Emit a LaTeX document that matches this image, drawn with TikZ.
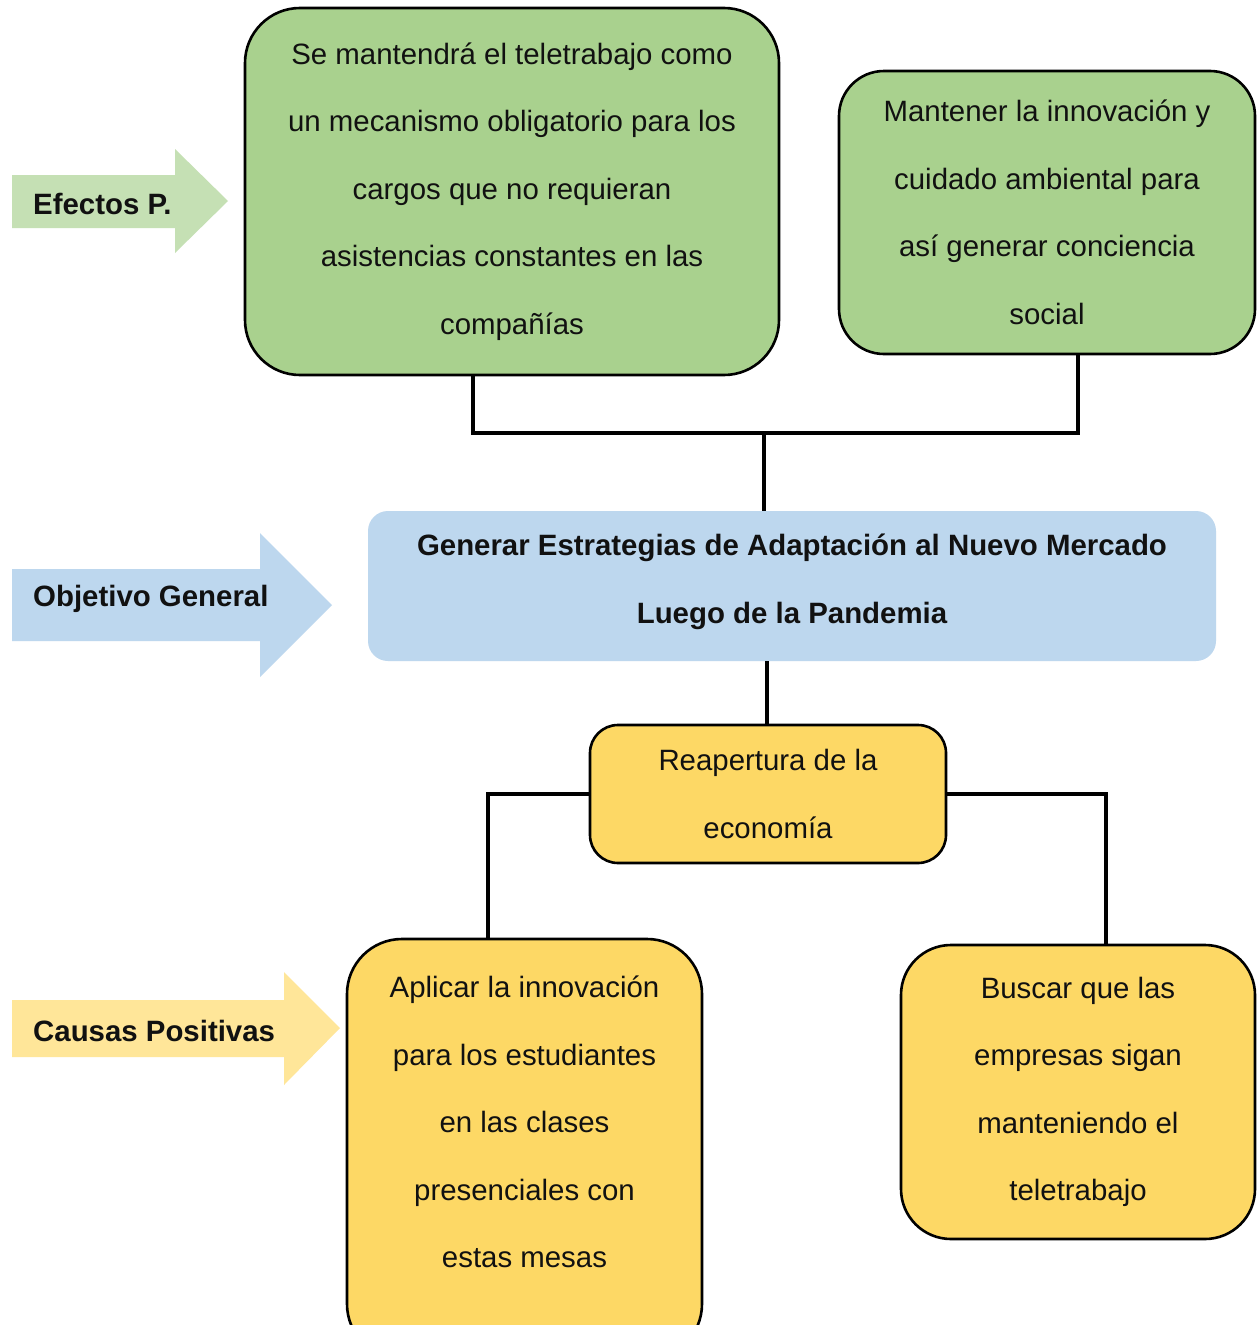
\documentclass[tikz,border=0pt]{standalone}
\usepackage{fontspec}
\setmainfont{Liberation Sans}
\definecolor{boxgreen}{HTML}{A9D18E}
\definecolor{arrgreen}{HTML}{C5E0B4}
\definecolor{boxblue}{HTML}{BDD7EE}
\definecolor{boxyellow}{HTML}{FDD865}
\definecolor{arryellow}{HTML}{FFE699}
\definecolor{ink}{HTML}{111111}
\begin{document}
\begin{tikzpicture}[x=1pt,y=-1pt,
  txt/.style={font=\fontsize{29.4}{67.5}\selectfont, text=ink, align=center},
  card/.style={txt, draw=black, line width=2.6pt, inner sep=0pt},
  tag/.style={font=\fontsize{29.4}{34}\selectfont\bfseries, text=ink, anchor=west, inner sep=0pt},
  link/.style={line width=3.6pt, draw=black}]
\clip (0,0) rectangle (1257,1325);
\fill[white] (0,0) rectangle (1257,1325);

% side arrows
\fill[arrgreen] (12,175) -- (175,175) -- (175,149) -- (228,201) -- (175,253) -- (175,228) -- (12,228) -- cycle;
\node[tag] (tefe) at (33,204) {Efectos P.};
\fill[boxblue] (12,569) -- (260,569) -- (260,533) -- (332,605) -- (260,677) -- (260,641) -- (12,641) -- cycle;
\node[tag] (tobj) at (33,599) {Objetivo General};
\fill[arryellow] (12,1000) -- (284,1000) -- (284,972) -- (340,1028) -- (284,1085) -- (284,1057) -- (12,1057) -- cycle;
\node[tag] (tcau) at (33,1031) {Causas Positivas};

% effects
\node[card, fill=boxgreen, rounded corners=55pt, minimum width=534pt, minimum height=367pt] (e1) at (512,191.5)
  {Se mantendrá el teletrabajo como\\un mecanismo obligatorio para los\\cargos que no requieran\\asistencias constantes en las\\compañías};
\node[card, fill=boxgreen, rounded corners=45pt, minimum width=416pt, minimum height=283pt] (e2) at (1047,212.5)
  {Mantener la innovación y\\cuidado ambiental para\\así generar conciencia\\social};

% general objective
\node[txt, fill=boxblue, rounded corners=20pt, inner sep=0pt,
  minimum width=848pt, minimum height=150pt] (obj) at (792,586) {};
\node[txt, font=\fontsize{29.4}{67.5}\selectfont\bfseries, inner sep=0pt] (objt) at (792,582)
  {Generar Estrategias de Adaptación al Nuevo Mercado\\Luego de la Pandemia};

% causes
\node[card, fill=boxyellow, rounded corners=28pt, minimum width=356pt, minimum height=138pt] (reap) at (768,794)
  {Reapertura de la\\economía};
\node[card, fill=boxyellow, rounded corners=55pt, minimum width=355pt, minimum height=420pt] (c1) at (524.5,1149) {};
\node[txt, inner sep=0pt] (c1t) at (524.5,1122)
  {Aplicar la innovación\\para los estudiantes\\en las clases\\presenciales con\\estas mesas};
\node[card, fill=boxyellow, rounded corners=50pt, minimum width=354pt, minimum height=294pt] (c2) at (1078,1092)
  {Buscar que las\\empresas sigan\\manteniendo el\\teletrabajo};

% junction points of the connector tree
\coordinate (ja) at (473,433);
\coordinate (jb) at (1078,433);
\coordinate (jm) at (764,433);
\coordinate (jl) at (488,794);
\coordinate (jr) at (1106,794);

\draw[link] (ja |- e1.south) -- (ja) -- (jb) -- (jb |- e2.south);
\draw[link] (jm) -- (jm |- obj.north);
\draw[link] (obj.south -| 767,0) -- (reap.north -| 767,0);
\draw[link] (reap.west) -- (jl) -- (jl |- c1.north);
\draw[link] (reap.east) -- (jr) -- (jr |- c2.north);
\end{tikzpicture}
\end{document}
